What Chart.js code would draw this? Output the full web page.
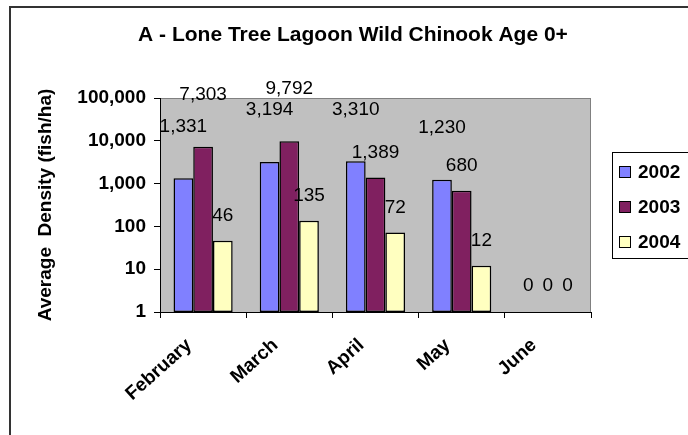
<!DOCTYPE html>
<html>
<head>
<meta charset="utf-8">
<script src="https://cdn.jsdelivr.net/npm/chart.js@4"></script>
<style>
  html, body { margin: 0; padding: 0; background: #fff; }
  #wrap { position: relative; width: 688px; height: 435px; }
</style>
</head>
<body>
<div id="wrap"><canvas id="chart"></canvas></div>
<script>
// Data
const MONTHS = ["February", "March", "April", "May", "June"];
const YEARS = ["2002", "2003", "2004"];
const DENSITY_2002 = [1331, 3194, 3310, 1230, 0];
const DENSITY_2003 = [7303, 9792, 1389, 680, 0];
const DENSITY_2004 = [46, 135, 72, 12, 0];
const Y_TICKS = [1, 10, 100, 1000, 10000, 100000];

const TITLE = "A - Lone Tree Lagoon Wild Chinook Age 0+";
const Y_TITLE = "Average  Density (fish/ha)";

// Style
const FONT = "'Liberation Sans', Arial, sans-serif";
const COLORS = ["#8080ff", "#802060", "#ffffc0"];
// Excel floated the value labels at two different heights above the bars (px)
const LABEL_LIFT = [
  [52, 52, 52, 52, 26],
  [52, 52, 25, 25, 26],
  [25, 25, 25, 25, 26]
];

const fmt = (v) => Number(v).toLocaleString("en-US");

const excelLook = {
  id: "excelLook",
  beforeDraw(chart) {
    const { ctx, chartArea: a } = chart;
    ctx.save();
    ctx.fillStyle = "#fff";
    ctx.fillRect(0, 0, chart.width, chart.height);
    // outer frame runs off the right and bottom edges
    ctx.strokeStyle = "#333";
    ctx.lineWidth = 2;
    ctx.strokeRect(10, 7, chart.width + 20, chart.height + 20);
    // plot area
    ctx.fillStyle = "#c0c0c0";
    ctx.fillRect(a.left, a.top, a.right - a.left, a.bottom - a.top);
    ctx.strokeStyle = "#808080";
    ctx.lineWidth = 1;
    ctx.strokeRect(a.left + 0.5, a.top + 0.5, a.right - a.left - 1, a.bottom - a.top);
    ctx.restore();
  },
  afterDatasetsDraw(chart) {
    const { ctx } = chart;
    const yScale = chart.scales.y;
    ctx.save();
    ctx.font = `19px ${FONT}`;
    ctx.fillStyle = "#000";
    ctx.textAlign = "center";
    ctx.textBaseline = "middle";
    chart.data.datasets.forEach((ds, i) => {
      const meta = chart.getDatasetMeta(i);
      meta.data.forEach((bar, j) => {
        const v = ds.data[j];
        const top = v > 0 ? bar.y : yScale.getPixelForValue(yScale.min);
        ctx.fillText(fmt(v), bar.x, top - LABEL_LIFT[i][j]);
      });
    });
    ctx.restore();
  },
  afterDraw(chart) {
    const { ctx } = chart;
    ctx.save();
    // title
    ctx.font = `bold 21px ${FONT}`;
    ctx.fillStyle = "#000";
    ctx.textAlign = "center";
    ctx.textBaseline = "middle";
    ctx.fillText(TITLE, 353, 35);
    // legend
    ctx.strokeStyle = "#000";
    ctx.lineWidth = 1;
    ctx.strokeRect(612.5, 152.5, 76, 106);
    ctx.font = `bold 19px ${FONT}`;
    ctx.textAlign = "left";
    chart.data.datasets.forEach((ds, i) => {
      const cy = 172 + i * 35;
      ctx.fillStyle = ds.backgroundColor;
      ctx.fillRect(619.5, cy - 5.5, 11, 11);
      ctx.strokeRect(619.5, cy - 5.5, 11, 11);
      ctx.fillStyle = "#000";
      ctx.fillText(ds.label, 638, cy + 1);
    });
    ctx.restore();
  }
};

const series = [DENSITY_2002, DENSITY_2003, DENSITY_2004];

new Chart(document.getElementById("chart"), {
  type: "bar",
  data: {
    labels: MONTHS,
    datasets: series.map((data, i) => ({
      label: YEARS[i],
      data,
      backgroundColor: COLORS[i],
      borderColor: "#000",
      borderWidth: (c) => (c.raw > 0 ? 1.5 : 0),
      borderSkipped: false,
      categoryPercentage: 0.686,
      barPercentage: 1
    }))
  },
  options: {
    responsive: true,
    maintainAspectRatio: false,
    animation: false,
    layout: { padding: { top: 98, right: 97, bottom: 0, left: 0 } },
    plugins: {
      legend: { display: false },
      title: { display: false },
      tooltip: { enabled: false }
    },
    scales: {
      x: {
        afterFit: (s) => { s.height = 123; },
        grid: {
          offset: true,
          drawOnChartArea: false,
          drawTicks: true,
          tickLength: 6,
          tickColor: "#000"
        },
        border: { color: "#000", width: 1 },
        ticks: {
          color: "#000",
          font: { family: FONT, size: 19, weight: "bold" },
          minRotation: 42,
          maxRotation: 42,
          autoSkip: false,
          padding: 16,
          labelOffset: -14
        }
      },
      y: {
        type: "logarithmic",
        min: 1,
        max: 100000,
        afterFit: (s) => { s.width = 160; },
        afterBuildTicks: (axis) => { axis.ticks = Y_TICKS.map((v) => ({ value: v })); },
        grid: {
          drawOnChartArea: false,
          drawTicks: true,
          tickLength: 6,
          tickColor: "#000"
        },
        border: { color: "#000", width: 1 },
        ticks: {
          color: "#000",
          font: { family: FONT, size: 19, weight: "bold" },
          padding: 8,
          callback: (v) => fmt(v)
        },
        title: {
          display: true,
          text: Y_TITLE,
          color: "#000",
          font: { family: FONT, size: 19, weight: "bold" },
          padding: { top: 34, bottom: 0 }
        }
      }
    }
  },
  plugins: [excelLook]
});
</script>
</body>
</html>
